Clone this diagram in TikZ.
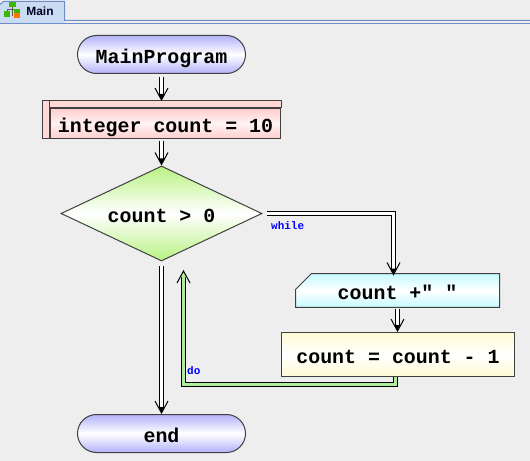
\documentclass[tikz,border=0pt]{standalone}
\usepackage{fontspec}
\setmainfont{Liberation Sans}
\setmonofont{Liberation Mono}
\usetikzlibrary{shapes.geometric,shapes.misc}
\definecolor{bggray}{RGB}{238,238,238}
\definecolor{tabblue}{RGB}{201,220,242}
\definecolor{tabline}{RGB}{110,140,200}
\definecolor{edge}{RGB}{64,64,64}
\definecolor{termblue}{RGB}{178,178,250}
\definecolor{declpink}{RGB}{255,206,206}
\definecolor{condgreen}{RGB}{184,242,130}
\definecolor{outcyan}{RGB}{196,250,255}
\definecolor{procyellow}{RGB}{255,250,212}
\definecolor{dogreen}{RGB}{176,236,160}
\def\colx{161.5}
\def\loopx{397.5}
\tikzset{
  code/.style={font=\fontsize{20}{20}\ttfamily\bfseries, text height=18pt, text depth=0pt, inner sep=0pt,
    line width=1bp},
  tag/.style={font=\fontsize{11}{11}\ttfamily\bfseries, text=blue, inner sep=0pt},
  term/.style={code, draw=edge, rounded corners=19bp, minimum width=168bp, minimum height=38bp,
    top color=termblue, bottom color=termblue, middle color=white},
  declbox/.style={code, draw=edge, minimum width=230bp, minimum height=30bp, text height=17.4pt,
    top color=declpink, bottom color=declpink, middle color=declpink!25},
  declrim/.style={draw=edge, line width=1bp, fill=declpink!80},
  cond/.style={code, draw=edge, diamond, aspect=2.1, minimum width=201bp, minimum height=95bp,
    text height=18.4pt, top color=condgreen, bottom color=condgreen, middle color=white},
  outbox/.style={code, draw=edge, chamfered rectangle, chamfered rectangle corners=north west,
    chamfered rectangle xsep=8bp, chamfered rectangle ysep=8bp, minimum width=204bp, minimum height=30bp,
    top color=outcyan, bottom color=outcyan, middle color=white},
  procbox/.style={code, draw=edge, minimum width=233bp, minimum height=44bp, text height=17.4pt,
    top color=procyellow, bottom color=procyellow, middle color=white},
  shaft/.style={draw=black, line width=1bp, line join=miter, double=white, double distance=3bp,
    shorten >=5bp},
  doshaft/.style={shaft, double=dogreen},
  vhead/.pic={
    \fill[#1] (-2.6,-7) -- (0,-1) -- (2.6,-7) -- cycle;
    \draw[black, line width=1bp] (-6.5,-13) -- (0,-1) -- (6.5,-13);
  },
  vhead/.default=white
}
\begin{document}
\begin{tikzpicture}[x=1bp,y=-1bp]
\fill[bggray] (0,0) rectangle (530,461);
\useasboundingbox (0,0) rectangle (530,461);
\fill[tabblue] (0,23.5) -- (0,4.5) -- (3.5,1.5) -- (64.5,1.5) -- (64.5,23.5) -- cycle;
\draw[tabline, line width=1bp] (0,4.5) -- (3.5,1.5) -- (64.5,1.5) -- (64.5,20.5) -- (530,20.5);
\draw[tabline, line width=1bp] (0,23.5) -- (530,23.5);
\fill[green!60!black!70!lime] (9,2) rectangle (16,7);
\draw[gray!70!black] (12.5,7) -- (12.5,16) (7,11) -- (7,9) -- (18,9);
\fill[green!60!black!70!lime] (4,11) rectangle (10,17);
\fill[green!60!black!70!lime] (14,9) rectangle (20,13);
\fill[orange!90!red] (14,13) rectangle (20,18);
\node[font=\fontsize{12}{12}\bfseries, text=black!85!blue, inner sep=0pt] (tab) at (40,11) {Main};

\node[term] (start) at (\colx,54.5) {MainProgram};
\node[declbox] (decl) at (165.5,123.5) {integer count = 10};
\draw[declrim] ([shift={(-7bp,7bp)}]decl.north west) rectangle (decl.north east);
\draw[declrim] ([shift={(-7bp,7bp)}]decl.north west) rectangle (decl.south west);
\node[cond] (test) at (\colx,213.5) {count > 0\ };
\node[outbox] (show) at (\loopx,290.5) {count +" "};
\node[procbox] (dec) at (398,354.5) {count = count - 1};
\node[term] (stop) at (\colx,433.5) {end};

\coordinate (decltop) at ([yshift=7bp]start.south |- decl.north);
\coordinate (wdrop) at (393.5,275.5);
\coordinate (dotop) at (183.5,270);
\draw[shaft, shorten <=3bp] (start.south) -- (decltop);
\pic at (decltop) {vhead};
\draw[shaft, shorten <=2bp] (start.south |- decl.south) -- (test.north);
\pic at (test.north) {vhead};
\draw[shaft, shorten <=4bp] (test.east) -| (wdrop);
\pic at (wdrop) {vhead};
\draw[shaft, shorten <=1bp] (show.south) -- (show.south |- dec.north);
\pic at (show.south |- dec.north) {vhead};
\draw[doshaft] ([xshift=-2.5bp]dec.south) -- ++(0,7) -| (dotop);
\pic[yscale=-1] at (dotop) {vhead=dogreen};
\draw[shaft, shorten <=4bp] (test.south) -- (stop.north);
\pic at (stop.north) {vhead};
\node[tag, anchor=west] (wlabel) at (271,226) {while};
\node[tag, anchor=west] (dlabel) at (187,371) {do};
\end{tikzpicture}
\end{document}
